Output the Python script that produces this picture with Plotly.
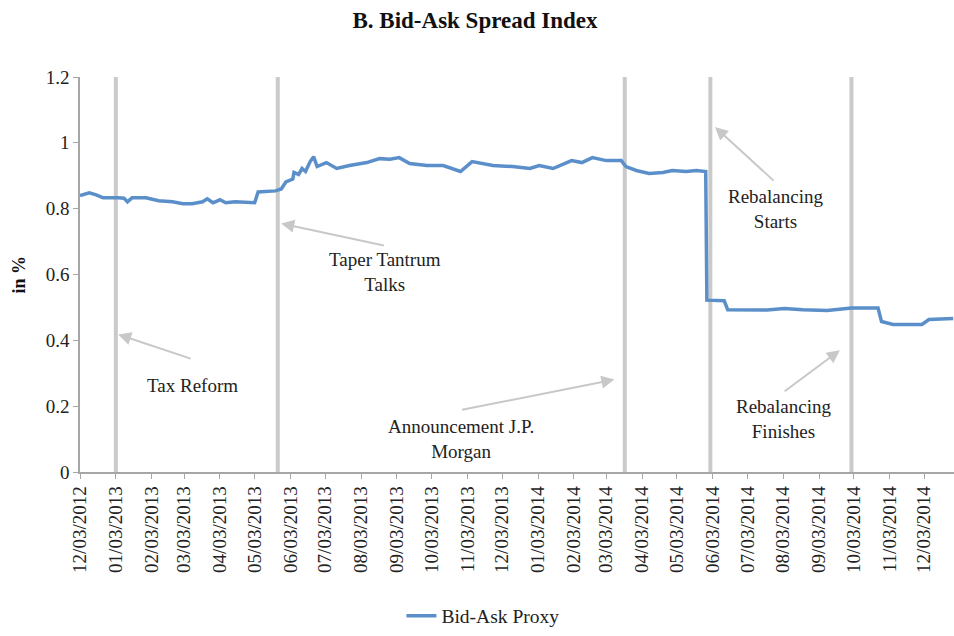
import pandas as pd
import plotly.graph_objects as go

# Bid-ask proxy (date, value in %)
dates = [
    '2012-12-03', '2012-12-11', '2012-12-17', '2012-12-23', '2013-01-05', '2013-01-10',
    '2013-01-13', '2013-01-17', '2013-01-29', '2013-02-04', '2013-02-09', '2013-02-21',
    '2013-03-02', '2013-03-10', '2013-03-19', '2013-03-23', '2013-03-28', '2013-04-03',
    '2013-04-08', '2013-04-16', '2013-05-03', '2013-05-06', '2013-05-21', '2013-05-26',
    '2013-05-30', '2013-06-05', '2013-06-06', '2013-06-10', '2013-06-13', '2013-06-16',
    '2013-06-20', '2013-06-23', '2013-06-26', '2013-07-04', '2013-07-13', '2013-07-24',
    '2013-08-08', '2013-08-19', '2013-08-28', '2013-09-05', '2013-09-14', '2013-09-29',
    '2013-10-13', '2013-10-28', '2013-11-07', '2013-11-25', '2013-12-12', '2013-12-27',
    '2014-01-04', '2014-01-16', '2014-01-24', '2014-02-01', '2014-02-10', '2014-02-19',
    '2014-03-03', '2014-03-16', '2014-03-20', '2014-03-29', '2014-04-09', '2014-04-21',
    '2014-04-29', '2014-05-11', '2014-05-20', '2014-05-28', '2014-05-29', '2014-06-13',
    '2014-06-16', '2014-07-20', '2014-08-04', '2014-08-20', '2014-09-10', '2014-09-30',
    '2014-10-01', '2014-10-24', '2014-10-27', '2014-11-06', '2014-12-01', '2014-12-07',
    '2014-12-28',
]
spread = [
    0.840, 0.848, 0.842, 0.833, 0.833, 0.832,
    0.821, 0.833, 0.833, 0.827, 0.824, 0.821,
    0.815, 0.815, 0.821, 0.830, 0.818, 0.827,
    0.818, 0.821, 0.818, 0.851, 0.854, 0.860,
    0.881, 0.890, 0.910, 0.904, 0.922, 0.913,
    0.943, 0.958, 0.928, 0.940, 0.922, 0.931,
    0.940, 0.952, 0.950, 0.955, 0.937, 0.931,
    0.931, 0.913, 0.943, 0.931, 0.928, 0.922,
    0.931, 0.922, 0.934, 0.946, 0.940, 0.955,
    0.946, 0.946, 0.928, 0.916, 0.907, 0.910,
    0.916, 0.913, 0.916, 0.913, 0.522, 0.520,
    0.493, 0.492, 0.497, 0.493, 0.491, 0.496,
    0.498, 0.498, 0.457, 0.448, 0.448, 0.463,
    0.466,
]

# Event markers
event_dates = ['2013-01-03', '2013-05-23', '2014-03-19', '2014-06-01', '2014-10-01']

# Annotations: label, text position, arrow tail, arrow head
labels = ['Tax Reform', 'Taper Tantrum<br>Talks', 'Announcement J.P.<br>Morgan',
          'Rebalancing<br>Starts', 'Rebalancing<br>Finishes']
label_dates = ['2013-03-10', '2013-08-24', '2013-10-28', '2014-07-27', '2014-08-03']
label_vals = [0.262, 0.608, 0.100, 0.800, 0.160]
tail_dates = ['2013-03-10', '2013-08-24', '2013-10-28', '2014-07-27', '2014-08-03']
tail_vals = [0.343, 0.687, 0.188, 0.881, 0.242]
head_dates = ['2013-01-05', '2013-05-26', '2014-03-10', '2014-06-05', '2014-09-21']
head_vals = [0.418, 0.755, 0.281, 1.048, 0.370]

tick_labels = ['12/03/2012', '01/03/2013', '02/03/2013', '03/03/2013', '04/03/2013',
               '05/03/2013', '06/03/2013', '07/03/2013', '08/03/2013', '09/03/2013',
               '10/03/2013', '11/03/2013', '12/03/2013', '01/03/2014', '02/03/2014',
               '03/03/2014', '04/03/2014', '05/03/2014', '06/03/2014', '07/03/2014',
               '08/03/2014', '09/03/2014', '10/03/2014', '11/03/2014', '12/03/2014']
tick_vals = pd.to_datetime(tick_labels, format='%m/%d/%Y')

font = "Liberation Serif, 'Times New Roman', serif"
blue = '#5b8fca'
grey = '#cacaca'

fig = go.Figure()
fig.add_trace(go.Scatter(x=pd.to_datetime(dates), y=spread, mode='lines',
                         name='Bid-Ask Proxy', line=dict(color=blue, width=3.5)))

for d in event_dates:
    fig.add_shape(type='line', x0=d, x1=d, yref='paper', y0=0, y1=1,
                  line=dict(color=grey, width=4), layer='below')

for i in range(len(labels)):
    fig.add_annotation(x=head_dates[i], y=head_vals[i], ax=tail_dates[i], ay=tail_vals[i],
                       axref='x', ayref='y', text='', showarrow=True,
                       arrowhead=2, arrowsize=1.3, arrowwidth=2, arrowcolor='#c8c8c8')
    fig.add_annotation(x=label_dates[i], y=label_vals[i], text=labels[i], showarrow=False,
                       font=dict(family=font, size=19, color='#222222'))

fig.add_annotation(xref='paper', yref='paper', x=-62 / 874, y=0.5, text='<b>in %</b>',
                   textangle=-90, showarrow=False, xanchor='center', yanchor='middle',
                   font=dict(family=font, size=18, color='#111111'))

fig.update_layout(
    width=954, height=636,
    margin=dict(l=80, r=0, t=77, b=158),
    paper_bgcolor='white', plot_bgcolor='white',
    title=dict(text='<b>B. Bid-Ask Spread Index</b>', x=475 / 954, xanchor='center',
               y=1 - 20 / 636, yanchor='middle',
               font=dict(family=font, size=23, color='#111111')),
    font=dict(family=font, size=19, color='#222222'),
    showlegend=True,
    legend=dict(orientation='h', x=0.461, xanchor='center', y=-0.365, yanchor='middle',
                font=dict(family=font, size=19.5, color='#222222')),
    xaxis=dict(range=['2012-12-03', '2014-12-28 16:00'], tickvals=tick_vals,
               ticktext=tick_labels, tickangle=-90, showgrid=False, zeroline=False,
               showline=True, linecolor='#a6a6a6', linewidth=1.5, automargin=False,
               ticks='outside', ticklen=5, tickcolor='#a6a6a6',
               tickfont=dict(family=font, size=19, color='#222222')),
    yaxis=dict(range=[0, 1.2], tickvals=[0, 0.2, 0.4, 0.6, 0.8, 1, 1.2],
               ticktext=['0', '0.2', '0.4', '0.6', '0.8', '1', '1.2'],
               showgrid=False, zeroline=False, showline=True, linecolor='#a6a6a6',
               linewidth=1.5, ticks='outside', ticklen=5, tickcolor='#a6a6a6',
               automargin=False,
               tickfont=dict(family=font, size=19, color='#222222')),
)

# drop the default 8px page margin so the figure fills the window
fig.write_html('out.html', config={'displayModeBar': False},
               post_script="document.body.style.margin='0';")
